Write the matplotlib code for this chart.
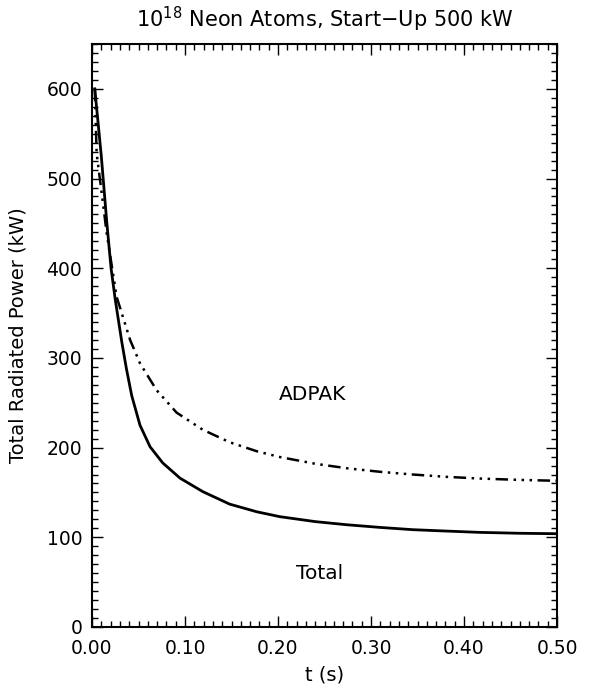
import matplotlib
matplotlib.use("Agg")
import matplotlib.pyplot as plt
from matplotlib.ticker import MultipleLocator, FormatStrFormatter

# Data
t_total = [0.003, 0.010, 0.016, 0.0205, 0.025, 0.032, 0.037, 0.0427, 0.0516, 0.0624, 0.076,
           0.0946, 0.119, 0.148, 0.177, 0.202, 0.240, 0.274, 0.310, 0.345, 0.380, 0.417, 0.460, 0.500]
p_total = [600, 525, 450, 400, 365, 318, 288, 258, 225, 201, 183,
           166, 151, 137, 128.5, 123, 117.5, 114, 111, 108.5, 107, 105.5, 104.5, 104]

t_adpak = [0.003, 0.005, 0.0104, 0.0158, 0.0265, 0.041, 0.0516, 0.0695, 0.091, 0.119,
           0.148, 0.177, 0.202, 0.240, 0.274, 0.310, 0.345, 0.380, 0.417, 0.460, 0.500]
p_adpak = [600, 528, 484, 439, 368, 320, 294, 264, 239, 220,
           206, 196, 189.5, 182, 177, 173, 170, 167.5, 165.5, 164, 163]

xticks = [0.00, 0.10, 0.20, 0.30, 0.40, 0.50]
yticks = [0, 100, 200, 300, 400, 500, 600]

plt.rcParams['font.family'] = ['DejaVu Sans']
fig = plt.figure(figsize=(6.15, 6.95), dpi=100)
ax = fig.add_axes([92/615, 1-627/695, (557-92)/615, (627-44)/695])

ax.plot(t_total, p_total, color='black', lw=2.0, solid_joinstyle='round')
ax.plot(t_adpak, p_adpak, color='black', lw=1.8,
        linestyle=(0, (5, 2.2, 1.0, 2.2, 1.0, 2.2, 1.0, 2.2)))

ax.set_xlim(0, 0.5)
ax.set_ylim(0, 650)
ax.set_xticks(xticks)
ax.set_yticks(yticks)
ax.xaxis.set_major_formatter(FormatStrFormatter('%.2f'))
ax.xaxis.set_minor_locator(MultipleLocator(0.01))
ax.yaxis.set_minor_locator(MultipleLocator(10))
ax.tick_params(which='both', direction='in', top=True, right=True, width=1.0, color='black')
ax.tick_params(which='major', length=8, labelsize=13.5)
ax.tick_params(axis='x', which='major', pad=9)
ax.tick_params(axis='y', which='major', pad=7)
ax.tick_params(which='minor', length=4)
for s in ax.spines.values():
    s.set_linewidth(1.5)

ax.set_xlabel('t (s)', fontsize=14, labelpad=5)
ax.set_ylabel('Total Radiated Power (kW)', fontsize=14, labelpad=14)
ax.set_title(r'10$^{18}$ Neon Atoms, Start$-$Up 500 kW', fontsize=15, pad=12)

ax.text(0.2366, 259, 'ADPAK', fontsize=14.5, ha='center', va='center')
ax.text(0.245, 60, 'Total', fontsize=14.5, ha='center', va='center')

fig.savefig('out.png', dpi=100)
